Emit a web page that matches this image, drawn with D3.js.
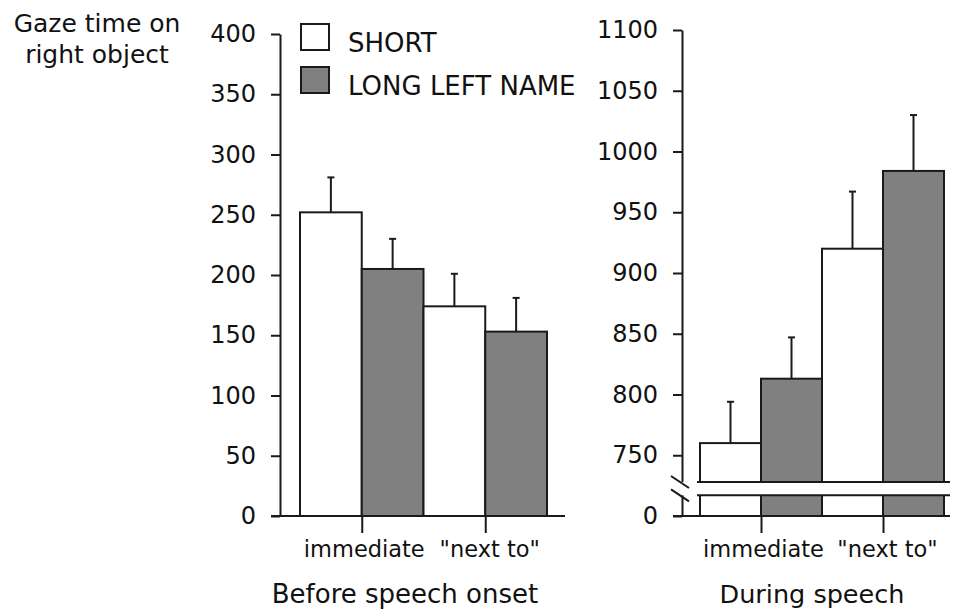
<!DOCTYPE html>
<html>
<head>
<meta charset="utf-8">
<script src="https://cdn.jsdelivr.net/npm/d3@7"></script>
<style>
  body { margin: 0; background: #fff; }
  svg { display: block; font-family: "DejaVu Sans", Verdana, sans-serif; }
  .axis path, .axis line { stroke: #1a1a1a; stroke-width: 2; }
  .axis text { fill: #111; }
</style>
</head>
<body>
<svg id="chart" width="959" height="616"></svg>
<script>
// data
const categories = ["immediate", "\"next to\""];
const series = ["SHORT", "LONG LEFT NAME"];
const seriesFill = ["#ffffff", "#808080"];

const beforeShort = [252, 174];
const beforeLong = [205, 153];
const beforeShortErr = [29, 27];
const beforeLongErr = [25, 28];

const duringShort = [760, 920];
const duringLong = [813, 984];
const duringShortErr = [34, 47];
const duringLongErr = [34, 46];

const beforeTicks = [0, 50, 100, 150, 200, 250, 300, 350, 400];
const duringTicks = [700, 750, 800, 850, 900, 950, 1000, 1050, 1100];
const duringBreak = [717, 728]; // values hidden by the axis break

const svg = d3.select("#chart");
const ink = "#1a1a1a";
const font = "DejaVu Sans";
const bottom = 516;

/**
 * Build a table of bars from two series arrays
 */
function toRows(shortVals, longVals, shortErr, longErr) {
    const rows = [];
    categories.forEach((c, i) => {
        rows.push({ cat: c, s: series[0], v: shortVals[i], e: shortErr[i] });
        rows.push({ cat: c, s: series[1], v: longVals[i], e: longErr[i] });
    });
    return rows;
}

/**
 * Draw one panel: y axis, baseline, bars, error whiskers and labels
 */
function drawPanel(opts) {
    const g = svg.append("g");

    const y = d3.scaleLinear().domain(opts.domain).range([bottom, opts.top]);
    const x0 = d3.scaleBand().domain(categories).range(opts.barRange).padding(0);
    const x1 = d3.scaleBand().domain(series).range([0, x0.bandwidth()]).padding(0);

    g.append("g")
        .attr("class", "axis")
        .attr("transform", "translate(" + opts.axisX + ",0)")
        .call(d3.axisLeft(y)
            .tickValues(opts.ticks)
            .tickFormat(opts.format || d3.format("d"))
            .tickSize(9)
            .tickSizeOuter(0)
            .tickPadding(15))
        .attr("font-family", font)
        .call(a => a.selectAll("text").attr("font-size", 24));

    // baseline
    g.append("line")
        .attr("x1", opts.axisX - 9).attr("x2", opts.lineEnd)
        .attr("y1", bottom).attr("y2", bottom)
        .attr("stroke", ink).attr("stroke-width", 2);

    const rows = toRows(...opts.values);

    g.append("g").selectAll("rect")
        .data(rows)
        .join("rect")
        .attr("x", d => x0(d.cat) + x1(d.s))
        .attr("width", x1.bandwidth())
        .attr("y", d => y(d.v))
        .attr("height", d => bottom - y(d.v))
        .attr("fill", d => seriesFill[series.indexOf(d.s)])
        .attr("stroke", ink)
        .attr("stroke-width", 2);

    const err = g.append("g").selectAll("g")
        .data(rows)
        .join("g")
        .attr("transform", d => "translate(" + (x0(d.cat) + x1(d.s) + x1.bandwidth() / 2) + ",0)");
    err.append("line")
        .attr("y1", d => y(d.v)).attr("y2", d => y(d.v + d.e))
        .attr("stroke", ink).attr("stroke-width", 2);
    err.append("line")
        .attr("x1", -3.5).attr("x2", 3.5)
        .attr("y1", d => y(d.v + d.e)).attr("y2", d => y(d.v + d.e))
        .attr("stroke", ink).attr("stroke-width", 2);

    // category ticks and labels
    const centre = d3.scaleOrdinal().domain(categories)
        .range(categories.map(c => x0(c) + x0.bandwidth() / 2));
    const cx = d3.scalePoint().domain(categories).range([centre(categories[0]), centre(categories[1])]);
    g.append("g")
        .attr("class", "axis")
        .attr("transform", "translate(0," + bottom + ")")
        .call(d3.axisBottom(cx).tickSize(17).tickSizeOuter(0).tickPadding(8))
        .attr("font-family", font)
        .call(a => a.select(".domain").remove())
        .call(a => a.selectAll("text").attr("font-size", 22.5)
            .attr("dx", (d, i) => i === 1 ? 4 : 2));

    g.append("text")
        .attr("x", opts.titleX)
        .attr("y", 603)
        .attr("text-anchor", "middle")
        .attr("font-size", opts.titleSize)
        .attr("fill", "#111")
        .text(opts.title);

    return { g, y, x0 };
}

drawPanel({
    domain: [0, 400], top: 34, axisX: 280, barRange: [300, 547], lineEnd: 565,
    ticks: beforeTicks, values: [beforeShort, beforeLong, beforeShortErr, beforeLongErr],
    title: "Before speech onset", titleX: 405, titleSize: 26
});

const right = drawPanel({
    domain: [700, 1100], top: 30, axisX: 682, barRange: [700, 944], lineEnd: 950,
    ticks: duringTicks, format: d => d === 700 ? "0" : d,
    values: [duringShort, duringLong, duringShortErr, duringLongErr],
    title: "During speech", titleX: 812, titleSize: 25.5
});

// axis break on the right panel
const yb = right.y;
right.g.append("rect")
    .attr("x", 660).attr("width", 300)
    .attr("y", yb(duringBreak[1])).attr("height", yb(duringBreak[0]) - yb(duringBreak[1]))
    .attr("fill", "#fff");
right.g.selectAll(".break")
    .data(duringBreak)
    .join("line")
    .attr("class", "break")
    .attr("x1", 697).attr("x2", 950)
    .attr("y1", d => yb(d)).attr("y2", d => yb(d))
    .attr("stroke", ink).attr("stroke-width", 2);
right.g.selectAll(".slash")
    .data(duringBreak)
    .join("line")
    .attr("class", "slash")
    .attr("x1", 682 - 11).attr("x2", 682 + 7)
    .attr("y1", d => yb(d) - 6).attr("y2", d => yb(d) + 6)
    .attr("stroke", ink).attr("stroke-width", 2);

// y axis title
svg.append("text")
    .attr("text-anchor", "middle")
    .attr("font-size", 25)
    .attr("fill", "#111")
    .selectAll("tspan")
    .data(["Gaze time on", "right object"])
    .join("tspan")
    .attr("x", 97)
    .attr("y", (d, i) => 32 + i * 31)
    .text(d => d);

// legend
const legend = svg.append("g").selectAll("g")
    .data(series)
    .join("g")
    .attr("transform", (d, i) => "translate(301," + (24 + i * 43) + ")");
legend.append("rect")
    .attr("width", 28).attr("height", 26)
    .attr("fill", (d, i) => seriesFill[i])
    .attr("stroke", ink).attr("stroke-width", 2);
legend.append("text")
    .attr("x", 47).attr("y", 28)
    .attr("font-size", 26)
    .attr("fill", "#111")
    .text(d => d);
</script>
</body>
</html>
